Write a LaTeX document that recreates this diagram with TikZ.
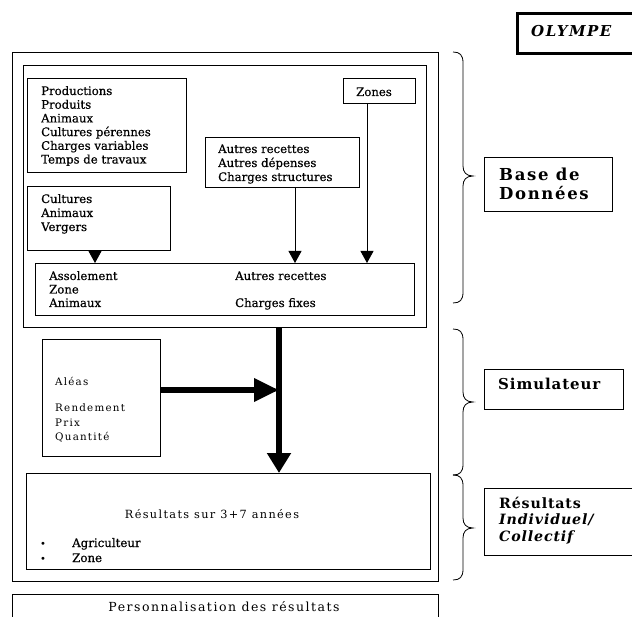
\documentclass[tikz,border=0pt]{standalone}
\usepackage{fontspec}
\setmainfont{DejaVu Serif}
\newfontfamily\boxfont[FakeBold=0.5]{DejaVu Serif}
\newfontfamily\spacedfont[LetterSpace=12]{DejaVu Serif}
\newfontfamily\headfont[LetterSpace=6]{DejaVu Serif}
\newfontfamily\wideheadfont[LetterSpace=10]{DejaVu Serif}
\usetikzlibrary{arrows.meta}
\newcommand{\mylines}[1]{\begin{tabular}[t]{@{}l@{}}#1\end{tabular}}
\begin{document}
\begin{tikzpicture}[x=1pt,y=-1pt,
  box/.style={draw,line width=0.8pt,inner sep=0pt,anchor=north west},
  txt/.style={inner sep=0pt,anchor=base west,font=\boxfont\fontsize{11.7}{13.7}\selectfont},
  light/.style={inner sep=0pt,anchor=base west,font=\spacedfont\fontsize{10.3}{14.5}\selectfont},
  head/.style={inner sep=0pt,anchor=base west,font=\headfont\bfseries\fontsize{14.5}{17.5}\selectfont},
  sarrow/.style={line width=0.8pt,-{Triangle[width=13pt,length=12pt]}},
  barrow/.style={line width=6.5pt,-{Triangle[width=23pt,length=20pt]}},
  brace/.style={line width=0.8pt}]
\useasboundingbox (0,0) rectangle (632,617);
% outer and inner frames
\node[box,minimum width=426pt,minimum height=529pt] (outer) at (12,52) {};
\node[box,minimum width=403pt,minimum height=262pt] (db) at (23,65) {};
% database boxes
\node[box,minimum width=159pt,minimum height=94pt] (prod) at (27,78) {};
\node[txt] (prodt) at (41,95) {\mylines{Productions\\Produits\\Animaux\\Cultures pérennes\\Charges variables\\Temps de travaux}};
\node[box,minimum width=72pt,minimum height=25pt] (zones) at (343,78) {};
\node[txt] (zonest) at (356,96) {Zones};
\node[box,minimum width=154pt,minimum height=50pt] (autres) at (205,137) {};
\node[txt,font=\boxfont\fontsize{11.7}{14}\selectfont] (autrest) at (218,153) {\mylines{Autres recettes\\Autres dépenses\\Charges structures}};
\node[box,minimum width=143pt,minimum height=64pt] (cult) at (27,186) {};
\node[txt,font=\boxfont\fontsize{11.7}{14}\selectfont] (cultt) at (41,203) {\mylines{Cultures\\Animaux\\Vergers}};
\node[box,minimum width=379pt,minimum height=52pt] (bot) at (35,263) {};
\node[txt,font=\boxfont\fontsize{11.7}{13.5}\selectfont] (botl) at (49,280) {\mylines{Assolement\\Zone\\Animaux}};
\node[txt,font=\boxfont\fontsize{11.7}{13.5}\selectfont] (botr) at (235,280) {\mylines{Autres recettes\\ \\Charges fixes}};
% small arrows
\coordinate (xa) at (95,0);
\coordinate (xb) at (295,0);
\coordinate (xc) at (367,0);
\draw[sarrow] (cult.south -| xa) -- (bot.north -| xa);
\draw[sarrow] (autres.south -| xb) -- (bot.north -| xb);
\draw[sarrow] (zones.south -| xc) -- (bot.north -| xc);
% simulator
\node[box,minimum width=118pt,minimum height=117pt] (alea) at (42,339) {};
\node[light] (aleat) at (55,386) {Aléas};
\node[light] (aleal) at (55,412) {\mylines{Rendement\\Prix\\Quantité}};
% results
\node[box,minimum width=404pt,minimum height=96pt] (res) at (26,473) {};
\node[light,anchor=base,font=\spacedfont\fontsize{11.3}{14}\selectfont] (rest) at (212,518) {Résultats sur 3+7 années};
\node[txt,font=\fontsize{10}{15}\selectfont] (bul) at (40,547) {\mylines{•\\•}};
\node[txt,font=\boxfont\fontsize{11.8}{15}\selectfont] (resl) at (72,547) {\mylines{Agriculteur\\Zone}};
% thick arrows
\coordinate (xm) at (279,0);
\coordinate (hy) at (0,390);
\draw[barrow] (db.south -| xm) -- (res.north -| xm);
\draw[barrow,-{Triangle[width=22pt,length=25pt]}] (alea.east |- hy) -- (xm |- hy);
% personnalisation
\node[box,minimum width=426pt,minimum height=40pt] (perso) at (12,594) {};
\node[inner sep=0pt,anchor=base,font=\spacedfont\fontsize{12.5}{14}\selectfont] (persot) at (224,611) {Personnalisation des résultats};
% right column
\node[box,line width=2.6pt,minimum width=122pt,minimum height=40pt] (oly) at (516,12) {};
\node[inner sep=0pt,anchor=base west,font=\wideheadfont\bfseries\itshape\fontsize{15}{16}\selectfont] (olyt) at (531,37) {OLYMPE};
\node[box,minimum width=128pt,minimum height=54pt] (bdd) at (484,157) {};
\node[head,font=\wideheadfont\bfseries\fontsize{16.5}{18}\selectfont] (bddt) at (499,181) {\mylines{Base de\\Données}};
\node[box,minimum width=139pt,minimum height=40pt] (sim) at (484,369) {};
\node[head,font=\headfont\bfseries\fontsize{15}{17}\selectfont] (simt) at (498,390) {Simulateur};
\node[box,minimum width=160pt,minimum height=67pt] (resb) at (484,488) {};
\node[head,font=\headfont\bfseries\fontsize{14.2}{16.5}\selectfont] (resbt) at (499,508) {\mylines{Résultats\\\textit{Individuel/}\\\textit{Collectif}}};
% braces
\draw[brace] (453,52) .. controls (460,52) and (463,55) .. (463,63) -- (463,166) .. controls (463,172) and (466,176) .. (473,176) .. controls (466,176) and (463,180) .. (463,186) -- (463,292) .. controls (463,300) and (460,303) .. (453,303);
\draw[brace] (453,329) .. controls (460,329) and (463,332) .. (463,340) -- (463,392) .. controls (463,398) and (466,402) .. (473,402) .. controls (466,402) and (463,406) .. (463,412) -- (463,464) .. controls (463,472) and (460,475) .. (453,475);
\draw[brace] (453,475) .. controls (460,475) and (463,478) .. (463,486) -- (463,518) .. controls (463,524) and (466,528) .. (473,528) .. controls (466,528) and (463,532) .. (463,538) -- (463,569) .. controls (463,577) and (460,580) .. (453,580);
\end{tikzpicture}
\end{document}
